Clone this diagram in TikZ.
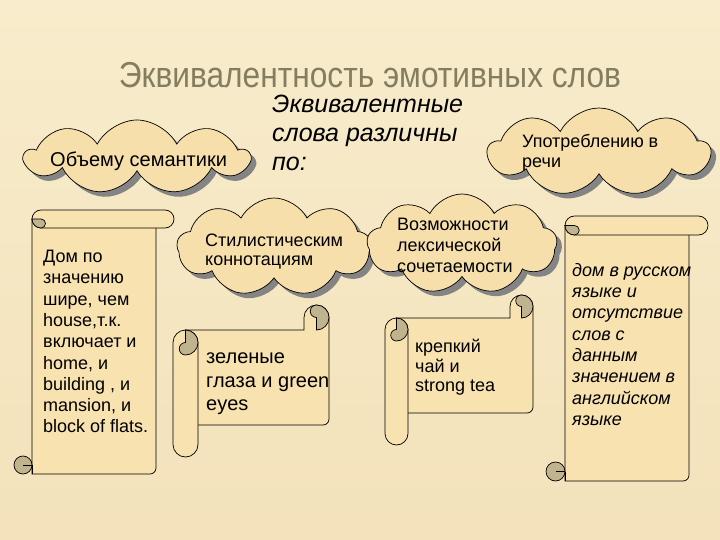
\documentclass[tikz,border=0pt]{standalone}
\usepackage{fontspec}
\setmainfont{Liberation Sans}
\newfontfamily\titlefont[FakeStretch=0.88]{Liberation Sans}
\usetikzlibrary{positioning,shapes.symbols,shadows}
\definecolor{paper}{RGB}{243,226,186}
\definecolor{paperlight}{RGB}{248,236,204}
\definecolor{puff}{RGB}{246,223,170}
\definecolor{roll}{RGB}{247,226,176}
\definecolor{curl}{RGB}{192,180,142}
\definecolor{shade}{RGB}{132,132,132}
\definecolor{titlegray}{RGB}{132,126,96}

% vertical scroll: body left, top, right, bottom, roll size
\newcommand{\vscroll}[5]{%
  \pgfmathsetmacro{\rh}{#5/2}
  \filldraw[scrollline] (#1,{#2+\rh}) -- (#1,#4) -- ({#3-#5-6},#4)
    arc[start angle=90,end angle=0,radius=6] -- ({#3-#5},{#2+\rh}) -- cycle;
  \filldraw[scrollline, rounded corners=\rh pt] (#1,#2) rectangle (#3,{#2+#5});
  \filldraw[curlfill] ({#1+\rh},{#2+#5}) arc[start angle=90,end angle=180,radius=\rh]
    -- ({#1+\rh},{#2+\rh}) arc[start angle=-90,end angle=90,radius=\rh/2] -- cycle;
  \filldraw[curlfill] ({#1-\rh},{#4-\rh}) circle[radius=\rh];
  \draw[line width=0.7pt] ({#1-\rh},{#4-\rh}) -- (#1,{#4-\rh}) (#1,{#4-\rh}) -- (#1,#4);
}
% horizontal scroll: left, top, right, body bottom, roll bottom, roll size
\newcommand{\hscroll}[6]{%
  \pgfmathsetmacro{\rh}{#6/2}
  \filldraw[scrollline] ({#1+\rh},{#2+#6}) -- ({#3-#6},{#2+#6}) -- ({#3-#6},{#2+\rh})
    arc[start angle=180,end angle=360,radius=\rh] -- (#3,{#4-6})
    arc[start angle=0,end angle=90,radius=6] -- ({#1+\rh},#4) -- cycle;
  \filldraw[curlfill] ({#3-\rh},#2) arc[start angle=270,end angle=450,radius=\rh]
    -- ({#3-\rh},{#2+\rh}) arc[start angle=90,end angle=270,radius=\rh/2] -- cycle;
  \filldraw[scrollline, rounded corners=\rh pt] (#1,{#2+#6}) rectangle ({#1+#6},#5);
  \filldraw[curlfill] ({#1+\rh},{#2+#6}) arc[start angle=-90,end angle=90,radius=\rh]
    arc[start angle=90,end angle=270,radius=\rh/2] -- cycle;
}

\begin{document}
\begin{tikzpicture}[x=1pt,y=-1pt,
  puffcloud/.style={cloud, cloud puffs=9, cloud puff arc=125, cloud ignores aspect,
    draw=black, line width=0.7pt, fill=puff, inner sep=0pt,
    drop shadow={shadow xshift=5pt, shadow yshift=-5pt, fill=shade, opacity=1}},
  cloudtext/.style={align=left, inner sep=0pt, font=\fontsize{18}{20}\selectfont},
  scrolltext/.style={align=left, inner sep=0pt, anchor=north west, font=\fontsize{18}{21.3}\selectfont},
  scrollline/.style={draw=black, line width=0.7pt, fill=roll},
  curlfill/.style={draw=black, line width=0.7pt, fill=curl}
]
\fill[top color=paperlight, bottom color=paper] (0,0) rectangle (720,540);
\useasboundingbox (0,0) rectangle (720,540);

\node[font=\titlefont\fontsize{36}{40}\selectfont, text=titlegray, inner sep=0pt] (title) at (370,75) {Эквивалентность эмотивных слов};
\node[font=\itshape\fontsize{25}{29}\selectfont, align=left, anchor=north west, inner sep=0pt] (lead) at (272,95) {Эквивалентные\\слова различны\\по:};

\node[puffcloud, minimum width=224pt, minimum height=74pt] (semcloud) at (137,157) {};
\node[cloudtext, font=\fontsize{20}{22}\selectfont, anchor=base west] (semtext) at (50,167) {Объему семантики};

\node[puffcloud, minimum width=222pt, minimum height=88pt] (usecloud) at (599,152) {};
\node[cloudtext, anchor=north west] (usetext) at (522,134) {Употреблению в\\речи};

\node[puffcloud, minimum width=194pt, minimum height=98pt] (stylecloud) at (274,247) {};
\node[cloudtext, anchor=north west, font=\fontsize{18}{19}\selectfont] (styletext) at (205,234) {Стилистическим\\коннотациям};

\node[puffcloud, minimum width=190pt, minimum height=100pt] (colcloud) at (462,244) {};
\node[cloudtext, anchor=north west, font=\fontsize{18}{21}\selectfont] (coltext) at (397,218) {Возможности\\лексической\\сочетаемости};

\vscroll{32}{210}{174}{474}{18}
\node[scrolltext] (housetext) at (43,250) {Дом по\\значению\\шире, чем\\house,т.к.\\включает и\\home, и\\building , и\\mansion, и\\block of flats.};

\hscroll{173}{305}{329}{425}{457}{25}
\node[scrolltext, font=\fontsize{20}{23.5}\selectfont] (eyestext) at (206,353) {зеленые\\глаза и green\\eyes};

\hscroll{385}{295}{533}{413}{445}{23}
\node[scrolltext, font=\fontsize{18}{19.5}\selectfont] (teatext) at (415,339) {крепкий\\чай и\\strong tea};

\vscroll{565}{216}{708}{481}{19}
\node[scrolltext, font=\itshape\fontsize{18}{21.3}\selectfont] (absencetext) at (572,263) {дом в русском\\языке и\\отсутствие\\слов с\\данным\\значением в\\английском\\языке};
\end{tikzpicture}
\end{document}
